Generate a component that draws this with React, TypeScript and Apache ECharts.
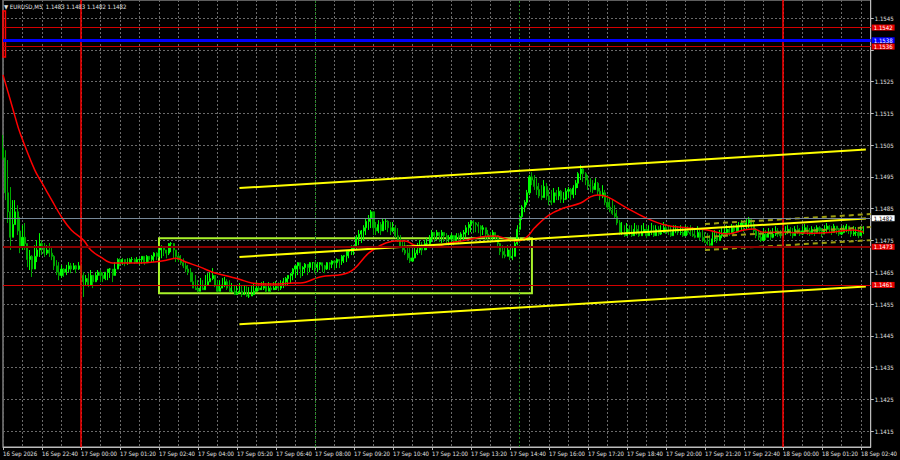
import { useEffect, useRef } from 'react';
import * as echarts from 'echarts';

// ---- time axis: M5 bars starting 16 Sep 21:20 ----
const START_DAY = 16;
const START_MINUTE = 21 * 60 + 20;
const BAR_MINUTES = 5;
const SLOT_COUNT = 357; // bars visible across the plot (last few empty)
const FIRST_LABEL = '16 Sep 2026';

// ---- price data, in pips above 1.1400 ----
const BASE = 1.14;
const OPEN_FIRST = 104;
const HIGH = [
  108.2,103.4,100.3,91.8,87.7,87.7,86.1,82.4,79.8,80.5,
  72.9,72.0,70.4,73.5,75.1,77.3,75.1,74.2,73.5,74.2,
  72.6,70.4,68.8,68.2,67.3,66.3,67.3,68.2,67.9,67.9,
  67.3,68.2,66.3,65.0,64.1,64.7,65.7,64.1,65.0,65.7,
  65.7,65.0,65.0,65.7,66.3,65.7,68.2,69.4,69.4,69.4,
  68.8,69.4,69.4,69.8,69.4,69.8,69.4,70.1,69.4,70.4,
  70.1,70.4,71.3,71.3,72.6,73.5,72.6,72.0,74.2,74.5,
  74.2,72.0,71.0,70.4,69.4,68.2,67.3,66.3,65.0,64.1,
  62.5,63.2,62.5,64.1,64.7,65.0,66.3,64.1,62.5,62.5,
  63.2,63.5,62.8,62.5,61.6,61.0,61.0,61.6,61.0,61.0,
  60.6,60.3,61.0,61.6,61.9,61.6,61.9,62.2,61.6,61.9,
  61.6,61.9,62.2,61.9,62.5,63.2,63.5,64.1,64.7,66.3,
  67.3,68.2,67.3,66.9,67.9,67.3,68.2,68.2,67.6,68.2,
  68.2,67.9,67.3,68.2,68.2,68.8,68.8,69.4,68.8,70.4,
  70.4,72.0,72.0,73.5,73.5,76.7,78.3,78.3,79.8,82.0,
  83.0,84.6,83.0,80.8,81.4,80.8,82.0,82.0,81.4,80.8,
  80.8,79.8,78.9,76.7,75.1,74.5,73.5,72.6,72.0,73.5,
  74.2,75.1,74.5,75.1,75.7,76.7,78.3,77.6,78.3,77.6,
  78.3,77.6,77.3,76.7,77.3,76.7,77.3,77.3,77.6,78.3,
  79.8,80.8,81.4,81.4,80.8,80.8,79.8,79.8,78.9,78.3,
  77.6,78.3,77.6,76.7,74.2,73.5,72.6,73.5,72.0,72.6,
  75.1,79.8,83.0,86.1,87.7,90.9,95.6,96.5,95.6,94.6,
  93.1,92.4,94.0,93.1,90.9,90.9,91.5,90.9,91.8,90.9,
  90.2,91.5,91.8,91.5,92.4,94.0,96.5,98.7,97.8,96.5,
  95.6,94.6,94.0,94.6,93.4,91.5,92.4,90.9,89.3,88.3,
  87.7,86.1,84.6,81.4,80.8,79.8,80.5,79.8,79.8,80.5,
  79.8,79.8,79.8,80.5,79.5,79.8,80.5,79.8,79.8,79.5,
  79.8,80.8,80.2,79.8,79.5,79.8,79.8,79.5,79.8,79.2,
  79.8,79.5,79.8,79.2,78.9,79.5,78.9,78.3,77.6,77.3,
  76.7,77.6,78.3,77.6,78.3,78.9,78.9,79.8,79.5,80.2,
  79.8,80.2,80.8,81.4,80.8,81.7,82.4,82.0,80.8,78.9,
  78.3,77.6,78.9,78.3,78.9,78.3,78.9,79.5,78.9,78.3,
  78.9,79.5,79.8,79.2,78.9,79.5,79.8,78.9,79.5,80.2,
  79.8,78.9,79.5,79.2,79.8,79.5,78.9,79.8,80.5,79.8,
  79.5,80.2,79.5,78.9,79.5,79.8,80.2,79.5,78.9,79.5,
  79.2,78.9,79.5,79.5,
];
const LOW = [
  100.3,87.7,80.5,72.0,76.7,81.4,76.7,71.0,72.0,72.0,
  66.6,65.7,63.5,67.3,68.2,69.8,70.4,69.8,70.4,69.8,
  68.8,65.7,64.1,62.5,63.2,63.5,64.1,65.0,64.7,65.7,
  64.7,65.7,61.0,57.2,61.0,60.3,61.6,60.0,61.9,62.5,
  61.9,61.9,62.5,62.5,63.2,61.9,64.1,66.3,66.9,67.3,
  66.9,67.3,67.6,67.9,67.6,68.2,67.3,67.6,67.3,68.2,
  68.2,68.2,68.2,68.8,69.4,69.4,70.1,69.4,70.4,71.3,
  69.4,68.2,68.2,67.3,66.3,65.0,64.1,61.9,60.0,59.4,
  58.7,59.4,59.4,60.3,61.3,61.9,62.5,60.3,58.7,59.4,
  60.0,60.3,59.4,58.7,58.7,57.8,58.4,58.4,57.2,57.8,
  57.2,56.9,57.8,58.7,59.4,59.1,59.4,59.4,58.7,59.4,
  58.7,59.4,59.4,59.1,59.4,60.0,60.6,61.0,61.6,62.5,
  63.2,64.1,63.2,63.8,64.7,64.1,65.0,65.7,64.7,65.0,
  65.7,65.0,64.7,65.7,65.7,66.3,65.7,66.3,66.3,67.3,
  67.9,68.2,69.4,70.4,70.4,72.0,73.5,74.2,75.1,76.7,
  78.3,78.9,76.7,76.7,77.3,76.7,78.3,78.3,77.6,76.7,
  77.6,75.7,74.5,72.6,71.3,70.4,68.8,67.9,68.2,69.4,
  70.4,71.0,70.4,72.0,72.0,72.6,74.5,74.5,75.1,74.5,
  74.2,74.5,74.2,73.5,74.2,73.5,74.5,74.2,74.5,75.1,
  76.1,76.7,77.6,77.3,77.6,77.3,76.1,76.7,75.1,75.1,
  74.2,75.1,74.5,72.6,70.4,69.4,69.4,70.4,68.8,68.8,
  70.4,73.5,77.6,81.4,83.9,86.1,89.3,92.4,90.9,89.3,
  88.3,87.7,89.3,87.7,86.1,86.1,87.7,87.7,87.7,86.8,
  86.8,87.7,88.3,87.7,88.3,89.3,91.5,94.0,93.4,92.4,
  90.9,90.2,89.9,90.9,89.3,87.7,88.3,86.1,84.6,83.9,
  83.0,82.0,79.8,76.7,76.7,76.1,77.3,76.7,76.1,77.3,
  76.7,76.1,76.7,77.3,75.7,76.7,76.7,76.1,77.3,76.4,
  76.7,77.6,77.0,76.7,76.1,77.0,77.3,76.7,76.7,76.1,
  77.0,76.7,76.4,76.1,75.7,76.4,75.1,74.5,74.2,73.5,
  73.2,74.2,74.5,74.2,75.1,75.7,76.1,76.7,76.4,77.3,
  76.7,77.6,77.6,78.3,77.6,78.3,78.9,78.3,76.7,75.7,
  75.1,74.5,75.7,75.1,76.4,75.1,75.7,76.4,76.1,75.7,
  76.4,76.7,77.0,76.4,75.7,77.0,77.0,76.4,76.7,77.3,
  76.7,76.4,77.0,76.4,77.3,77.0,76.1,77.0,77.6,77.3,
  76.7,77.6,77.0,76.4,76.7,77.3,77.6,77.0,76.1,76.4,
  76.4,75.7,76.7,77.0,
];
const CLOSE = [
  101,90,84,76,80,84,78,73,76,74,
  69,70,66,70,72,74,73,71,72,71,
  70,67,65,64,66,65,66,67,66,67,
  66,67,64,62,63,61,64,62,64,65,
  64,63,65,66,66,64,66,69,68,69,
  68,68,69,69,68,69,69,70,68,70,
  69,70,71,70,72,73,72,71,74,74,
  72,70,69,68,67,66,65,62,60,59.5,
  59,60,59.5,61,62,63,64,61,59,60,
  61,62,60,59,59,58,58.5,59,58,58,
  57.5,57.5,58,59,60,59.5,60,60.5,59,60,
  59.5,60,60.5,60,61,62,63,64,64.5,66,
  67,68,66,66.5,67.5,66.5,68,68,66.5,67.5,
  68,67,66,68,67.5,68.5,68,69,68.5,70,
  70.2,71.5,71.5,73,73,76,77,78,79,81,
  82,84,79,78,80,78,81,81,79,78,
  79,76.5,75,73,72,71,69.5,68.5,69.5,71,
  72,73,72,74,74,75.5,77.5,76.5,77.5,76.5,
  77.5,76.5,75.5,75.5,76.5,75,76.5,76,77,77.5,
  79,80,81,80.5,80,79.5,78.5,79,77,76.5,
  76,77.5,76.5,74,71.5,70.5,70,72,69.5,70,
  74,78.5,82.5,85.5,87,90,95,94,92,91,
  89,88.5,92,89,87.5,87,90,89,90.5,88,
  88,90.5,91,89.5,91.5,93,96,97.5,96,94,
  92.5,92,91,93,90.5,89,90,87,85.5,84.5,
  83.5,82.5,80.5,77.5,77.5,76.5,78.5,77.5,76.5,78.5,
  77.5,76.5,77.5,78.5,76.5,77.5,78,76.5,78.5,77,
  77.5,79,78,77.5,76.5,78,78.5,77.5,77.5,76.5,
  78,77.5,77,76.5,76,77.5,76,75,74.5,74,
  73.5,75.5,76,75,76.5,77,77.5,78.5,77.5,79,
  78,79.5,79.5,80.5,79.5,80.5,81.5,80,78,76.5,
  76,75,77,76,77.5,76,77,78,77,76.5,
  77.5,78,78.5,77.5,76.5,78.5,78,77,78,79,
  78,77,78.5,77.5,79,78,77,78.5,79.5,78.5,
  77.5,79.5,78.5,77,77.5,78.5,79.5,78,77,77.5,
  77.5,76.5,78,78,
];

// moving average: [bar index, pips]
const MA_POINTS = [
  [0,127.1],[3,119.2],[5,113.8],[7,108.8],[13,97.2],[16,93.1],[20,87.7],[24,82.4],
  [28,78.3],[33,75.1],[36,72.0],[40,69.8],[45,67.9],[51,67.9],[56,67.9],[62,68.2],
  [67,68.8],[71,69.4],[75,68.2],[81,66.6],[86,65.0],[92,63.8],[97,62.8],[102,61.6],
  [108,61.3],[113,61.3],[119,61.6],[122,61.6],[130,63.5],[142,65.0],[150,71.0],
  [155,73.5],[161,74.8],[165,74.8],[169,73.5],[176,72.9],[183,74.2],[190,75.1],
  [196,76.1],[202,76.4],[207,75.4],[211,74.8],[215,76.1],[218,78.9],[224,83.0],
  [230,85.2],[237,86.8],[241,88.7],[244,89.3],[248,88.7],[256,85.2],[264,82.0],
  [272,79.8],[281,78.9],[289,78.3],[297,77.0],[304,78.3],[308,78.6],[312,77.6],
  [320,77.6],[331,77.3],[340,77.6],[349,78.3],[353,77.6],
];

// price scale: grid/ticks every 10 pips; the 1.1535 label sits under the level tags
const Y_MIN = 1.141;
const Y_MAX = 1.155067;
const Y_TICKS = [1.1415,1.1425,1.1435,1.1445,1.1455,1.1465,1.1475,1.1485,1.1495,1.1505,1.1515,1.1525,1.1535,1.1545];
const Y_LABELS = [1.1415,1.1425,1.1435,1.1445,1.1455,1.1465,1.1475,1.1485,1.1495,1.1505,1.1515,1.1525,1.1545];

// horizontal levels with price tags
const LEVELS = [
  { price: 1.1542, color: '#d40000', width: 1, bg: '#e60000', text: '#ffffff' },
  { price: 1.1538, color: '#0000ff', width: 3, bg: '#0000ff', text: '#ffffff' },
  { price: 1.1536, color: '#c00000', width: 1, bg: '#e60000', text: '#ffffff' },
  { price: 1.1482, color: '#778899', width: 1, bg: '#ffffff', text: '#000000' },
  { price: 1.1473, color: '#8b0000', width: 2, bg: '#e60000', text: '#ffffff' },
  { price: 1.1461, color: '#d40000', width: 1, bg: '#e60000', text: '#ffffff' },
];

const DAY_SEPARATORS = [32, 320];
const SESSION_MARKS = [128, 212];

// channels: [[startIdx, startPips], [endIdx, endPips]]
const MAIN_CHANNEL = [
  [[97, 91.5], [354, 103.6]],
  [[97, 69.8], [354, 81.9]],
  [[97, 48.6], [354, 60.5]],
];
const SMALL_CHANNEL = [
  [[288, 80.2], [356, 83.3]],
  [[288, 76.1], [356, 79.2]],
  [[288, 72.0], [356, 75.1]],
];

const BOX = { from: 64, to: 217, top: 75.7, bottom: 58.4 };
const BRACKET = { from: 0, to: 1, top: 147.2, bottom: 132.7 };

const TITLE = '\u25BC EURUSD,M5  1.1483 1.1483 1.1482 1.1482';
const FONT = "'Liberation Sans Narrow','DejaVu Sans Condensed','Liberation Sans',sans-serif";

const px = (p: number) => +(BASE + p / 10000).toFixed(5);
const pad = (n: number) => (n < 10 ? '0' + n : '' + n);

function buildCategories() {
  const out: string[] = [];
  for (let i = 0; i < SLOT_COUNT; i++) {
    const total = START_MINUTE + i * BAR_MINUTES;
    const day = START_DAY + Math.floor(total / 1440);
    const m = total % 1440;
    out.push(`${day} Sep ${pad(Math.floor(m / 60))}:${pad(m % 60)}`);
  }
  return out;
}

export default function App() {
  const ref = useRef<HTMLDivElement>(null);
  useEffect(() => {
    if (!ref.current) return;
    const chart = echarts.init(ref.current, undefined, { renderer: 'svg' });
    const categories = buildCategories();
    const candles = CLOSE.map((c, i) => {
      const o = i === 0 ? OPEN_FIRST : CLOSE[i - 1];
      const h = Math.max(HIGH[i], o, c);
      const l = Math.min(LOW[i], o, c);
      return [px(o), px(c), px(l), px(h)];
    });

    const levelLines = LEVELS.map((l) => [
      {
        coord: [0, l.price],
        lineStyle: { color: l.color, width: l.width, type: 'solid' },
        label: {
          show: true,
          position: 'end',
          distance: 1,
          formatter: l.price.toFixed(4),
          color: l.text,
          backgroundColor: l.bg,
          padding: [0, 2, 0, 2],
          fontSize: 6,
          lineHeight: 6,
          fontFamily: FONT,
        },
      },
      { coord: [SLOT_COUNT - 1, l.price] },
    ]);
    const vLines = [
      ...DAY_SEPARATORS.map((x) => ({ xAxis: x, lineStyle: { color: '#ff0000', width: 1.5, type: 'solid' } })),
      ...SESSION_MARKS.map((x) => ({ xAxis: x, lineStyle: { color: '#1f8a1f', width: 1, type: [2, 2] } })),
    ];
    const chan = (seg: number[][], color: string, width: number, type: any) => [
      { coord: [seg[0][0], px(seg[0][1])], lineStyle: { color, width, type } },
      { coord: [seg[1][0], px(seg[1][1])] },
    ];
    const channelLines = [
      ...MAIN_CHANNEL.map((s) => chan(s, '#ffff00', 2, 'solid')),
      ...SMALL_CHANNEL.map((s) => chan(s, '#9c9c10', 2, [5, 4])),
    ];

    const axisText = { color: '#e0e0e0', fontSize: 6, fontFamily: FONT };
    const gridLine = { show: true, lineStyle: { color: '#6a6a6a', width: 1, type: [2, 2] } };

    chart.setOption({
      animation: false,
      backgroundColor: '#000000',
      title: {
        text: TITLE,
        left: 4,
        top: 3,
        padding: 0,
        textStyle: { color: '#e0e0e0', fontSize: 6, fontWeight: 'normal', fontFamily: FONT },
      },
      grid: { left: 2, right: 25, top: 0, bottom: 13, show: true, borderColor: '#bcbcbc', borderWidth: 1 },
      xAxis: {
        type: 'category',
        data: categories,
        boundaryGap: false,
        axisLine: { show: true, lineStyle: { color: '#bcbcbc' } },
        axisTick: {
          show: true,
          length: 3,
          interval: (i: number) => i % 16 === 0,
          lineStyle: { color: '#bcbcbc' },
        },
        axisLabel: {
          ...axisText,
          interval: (i: number) => i % 16 === 0,
          align: 'left',
          margin: 3,
          formatter: (v: string, i: number) => (i === 0 ? FIRST_LABEL : v),
        },
        splitLine: { ...gridLine, interval: (i: number) => i % 8 === 0 },
      },
      yAxis: {
        type: 'value',
        position: 'right',
        scale: true,
        min: Y_MIN,
        max: Y_MAX,
        axisLine: { show: true, lineStyle: { color: '#bcbcbc' } },
        axisTick: { show: true, length: 3, customValues: Y_TICKS, lineStyle: { color: '#bcbcbc' } },
        axisLabel: {
          ...axisText,
          margin: 4,
          customValues: Y_LABELS,
          formatter: (v: number) => v.toFixed(4),
        },
        splitLine: gridLine,
      },
      series: [
        {
          type: 'candlestick',
          data: candles,
          barWidth: 1.6,
          itemStyle: {
            color: '#00ff00',
            color0: '#00a800',
            borderColor: '#00ff00',
            borderColor0: '#00a800',
            borderWidth: 1,
          },
          z: 2,
        },
        {
          type: 'line',
          data: MA_POINTS.map(([i, p]) => [i, px(p)]),
          smooth: 0.4,
          showSymbol: false,
          lineStyle: { color: '#ff0000', width: 1.5 },
          z: 3,
          markArea: {
            silent: true,
            data: [
              [
                { coord: [BOX.from, px(BOX.top)], itemStyle: { color: 'rgba(0,0,0,0)', borderColor: '#a8f22a', borderWidth: 2 } },
                { coord: [BOX.to, px(BOX.bottom)] },
              ],
              [
                { coord: [BRACKET.from, px(BRACKET.top)], itemStyle: { color: 'rgba(0,0,0,0)', borderColor: '#ff0000', borderWidth: 1.5 } },
                { coord: [BRACKET.to, px(BRACKET.bottom)] },
              ],
            ],
          },
          markLine: {
            silent: true,
            symbol: ['none', 'none'],
            label: { show: false },
            data: [...vLines, ...channelLines, ...levelLines],
          },
        },
      ],
    });
    return () => chart.dispose();
  }, []);
  return (
    <div
      ref={ref}
      style={{ position: 'fixed', left: 0, top: 0, width: 900, height: 460, background: '#000' }}
    />
  );
}
